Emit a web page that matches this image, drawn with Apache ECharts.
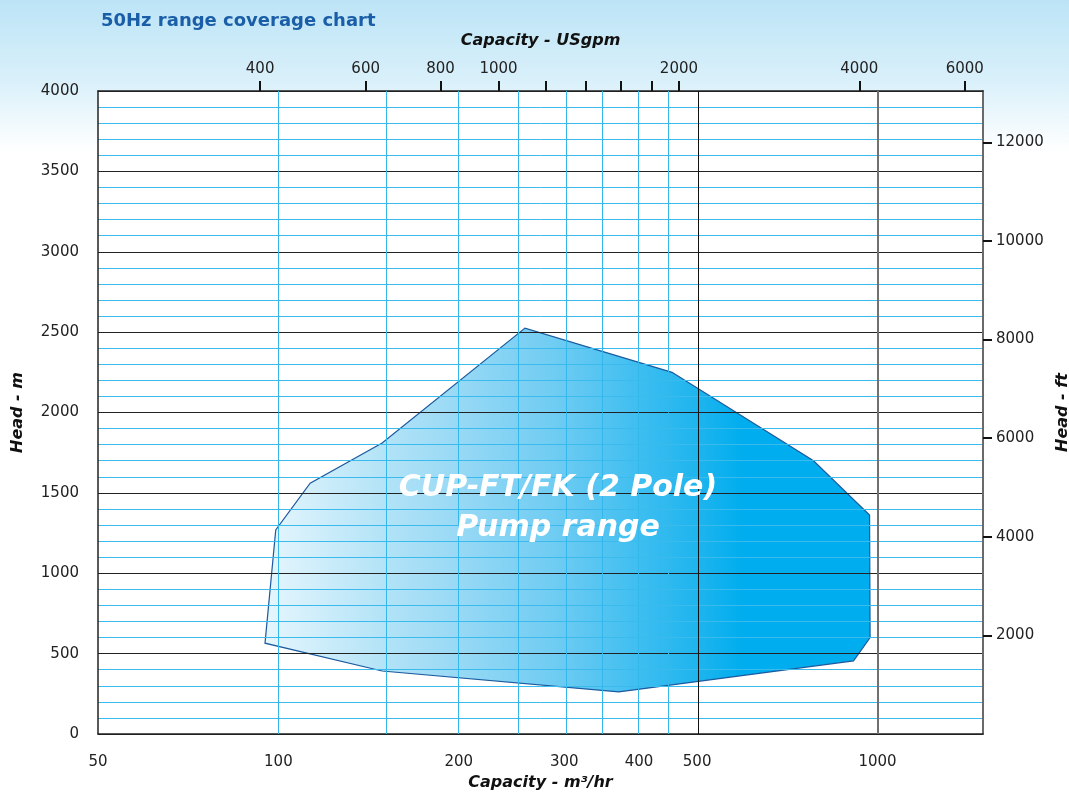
<!DOCTYPE html>
<html>
<head>
    <meta charset="utf-8">
    <title>50Hz range coverage chart</title>
    <script src="https://cdn.jsdelivr.net/npm/echarts@6/dist/echarts.min.js"></script>
    <style>
        html, body { margin: 0; padding: 0; background: #fff; }
        #chart1 { width: 1069px; height: 796px; }
    </style>
</head>
<body>
<div id="chart1"></div>
<script>
    // range outline (capacity m3/hr, head m)
    var rangeCapacity = [95, 99, 113, 149, 258, 454, 782, 970, 972, 912, 370, 149];
    var rangeHead = [565, 1270, 1560, 1810, 2525, 2250, 1700, 1362, 600, 455, 262, 392];

    // bottom axis (m3/hr)
    var capMin = 50, capMax = 1500;
    var capLabels = [50, 100, 200, 300, 400, 500, 1000];
    var capGridBlue = [100, 150, 200, 250, 300, 350, 400, 450];
    var capGridBlack = [500];
    var capGridGrey = [1000];

    // top axis (USgpm)
    var gpmPerM3 = 4.29;
    var gpmTicks = [400, 600, 800, 1000, 1200, 1400, 1600, 1800, 2000, 4000, 6000];
    var gpmLabels = [400, 600, 800, 1000, 2000, 4000, 6000];

    // head axes
    var headMax = 4000;
    var ftPerM = 3.26;
    var ftTicks = [2000, 4000, 6000, 8000, 10000, 12000];

    var LOG = function (v) { return Math.log10(v); };
    var fmtLog = function (v) { return String(Math.round(Math.pow(10, v))); };
    var fmtPlain = function (v) { return String(Math.round(v)); };
    var FONT = 'DejaVu Sans';
    var nameStyle = {fontFamily: FONT, fontSize: 16, fontWeight: 'bold', fontStyle: 'italic', color: '#111'};

    var polyData = rangeCapacity.map(function (c, i) { return [LOG(c), rangeHead[i]]; });

    // vertical grid lines as markLines
    var vLines = [];
    capGridBlue.forEach(function (v) {
        vLines.push({xAxis: LOG(v), lineStyle: {color: '#34b8ec', width: 1, type: 'solid'}});
    });
    capGridBlack.forEach(function (v) {
        vLines.push({xAxis: LOG(v), lineStyle: {color: '#111', width: 1, type: 'solid'}});
    });
    capGridGrey.forEach(function (v) {
        vLines.push({xAxis: LOG(v), lineStyle: {color: '#707070', width: 2, type: 'solid'}});
    });

    var myChart1 = echarts.init(document.getElementById('chart1'));
    myChart1.setOption({
        animation: false,
        backgroundColor: new echarts.graphic.LinearGradient(0, 0, 0, 1, [
            {offset: 0, color: '#bce4f6'},
            {offset: 0.1, color: '#d9f0fa'},
            {offset: 0.19, color: '#ffffff'},
            {offset: 1, color: '#ffffff'}
        ]),
        title: {
            text: '50Hz range coverage chart',
            left: 96,
            top: 7,
            textStyle: {fontFamily: FONT, fontSize: 18, fontWeight: 'bold', color: '#1a5ea8'}
        },
        grid: {
            left: 98, right: 86, top: 91, bottom: 62,
            outerBoundsMode: 'none',
            containLabel: false,
            show: true, backgroundColor: '#ffffff', borderWidth: 0, z: -5
        },
        xAxis: [
            {
                type: 'value',
                position: 'bottom',
                min: LOG(capMin),
                max: LOG(capMax),
                name: 'Capacity - m³/hr',
                nameLocation: 'middle',
                nameGap: 40,
                nameTextStyle: nameStyle,
                axisLine: {show: true, onZero: false, lineStyle: {color: '#222', width: 1.5}},
                axisTick: {show: false},
                axisLabel: {
                    customValues: capLabels.map(LOG),
                    formatter: fmtLog,
                    margin: 21,
                    fontFamily: FONT, fontSize: 15, color: '#222'
                },
                splitLine: {show: false}
            },
            {
                type: 'value',
                position: 'top',
                min: LOG(capMin * gpmPerM3),
                max: LOG(capMax * gpmPerM3),
                name: 'Capacity - USgpm',
                nameLocation: 'middle',
                nameGap: 42,
                nameTextStyle: nameStyle,
                axisLine: {show: true, onZero: false, lineStyle: {color: '#222', width: 1.5}},
                axisTick: {
                    show: true, inside: false, length: 10,
                    customValues: gpmTicks.map(LOG),
                    lineStyle: {color: '#111', width: 2}
                },
                axisLabel: {
                    customValues: gpmLabels.map(LOG),
                    formatter: fmtLog,
                    margin: 14,
                    fontFamily: FONT, fontSize: 15, color: '#222'
                },
                splitLine: {show: false}
            }
        ],
        yAxis: [
            {
                type: 'value',
                position: 'left',
                min: 0,
                max: headMax,
                interval: 500,
                name: 'Head - m',
                nameLocation: 'middle',
                nameGap: 72,
                nameTextStyle: nameStyle,
                axisLine: {show: true, onZero: false, lineStyle: {color: '#222', width: 1.5}},
                axisTick: {show: false},
                axisLabel: {margin: 19, formatter: fmtPlain, fontFamily: FONT, fontSize: 15, color: '#222'},
                splitLine: {show: true, lineStyle: {color: '#222', width: 1.2}},
                minorTick: {show: false, splitNumber: 5},
                minorSplitLine: {show: true, lineStyle: {color: '#3bbaee', width: 1}}
            },
            {
                type: 'value',
                position: 'right',
                min: 0,
                max: headMax * ftPerM,
                name: 'Head - ft',
                nameLocation: 'middle',
                nameGap: 68,
                nameTextStyle: nameStyle,
                axisLine: {show: true, onZero: false, lineStyle: {color: '#6a6a6a', width: 2}},
                axisTick: {
                    show: true, inside: false, length: 9,
                    customValues: ftTicks,
                    lineStyle: {color: '#111', width: 2}
                },
                axisLabel: {customValues: ftTicks, formatter: fmtPlain, margin: 13, fontFamily: FONT, fontSize: 15, color: '#222'},
                splitLine: {show: false}
            }
        ],
        graphic: [
            {
                type: 'text',
                z: 10,
                x: 558,
                y: 508,
                style: {
                    text: 'CUP-FT/FK (2 Pole)\nPump range',
                    textAlign: 'center',
                    textVerticalAlign: 'middle',
                    lineHeight: 40,
                    fill: '#ffffff',
                    font: 'italic bold 30px "DejaVu Sans"'
                }
            }
        ],
        series: [
            {
                // pump range polygon
                type: 'custom',
                xAxisIndex: 0,
                yAxisIndex: 0,
                z: -1,
                silent: true,
                data: polyData,
                renderItem: function (params, api) {
                    if (params.dataIndex !== 0) return;
                    var pts = polyData.map(function (d) { return api.coord(d); });
                    return {
                        type: 'polygon',
                        shape: {points: pts},
                        style: {
                            fill: new echarts.graphic.LinearGradient(0, 0, 1, 0, [
                                {offset: 0, color: '#e6f6fd'},
                                {offset: 0.2, color: '#b2e3f7'},
                                {offset: 0.32, color: '#98d9f5'},
                                {offset: 0.49, color: '#6ccbf2'},
                                {offset: 0.62, color: '#3dbef0'},
                                {offset: 0.72, color: '#1cb4ee'},
                                {offset: 0.79, color: '#00adee'},
                                {offset: 1, color: '#00adee'}
                            ]),
                            stroke: '#1b5a9f',
                            lineWidth: 1.2
                        }
                    };
                }
            },
            {
                // vertical grid lines
                type: 'line',
                xAxisIndex: 0,
                yAxisIndex: 0,
                data: [],
                z: 1,
                silent: true,
                markLine: {
                    silent: true,
                    symbol: ['none', 'none'],
                    label: {show: false},
                    animation: false,
                    data: vLines
                }
            }
        ]
    });
</script>
</body>
</html>
